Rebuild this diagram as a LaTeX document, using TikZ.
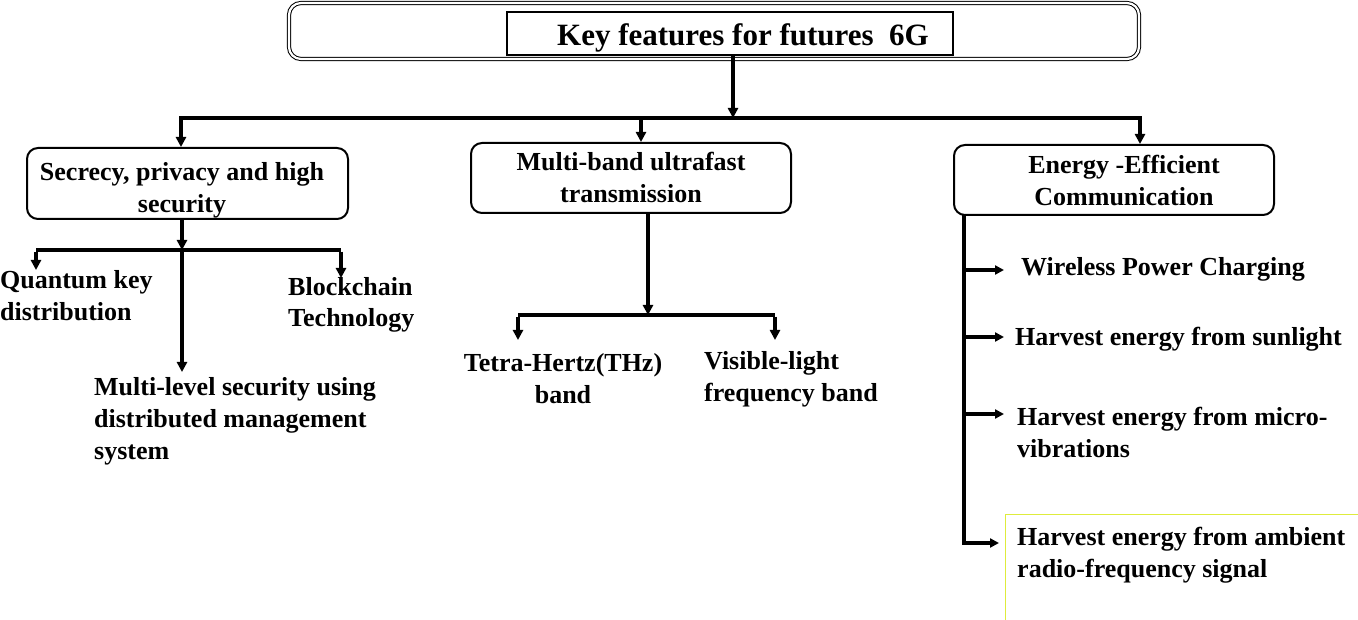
\documentclass[tikz,border=0pt]{standalone}
\usepackage{fontspec}
\setmainfont{Liberation Serif}
\usetikzlibrary{arrows.meta}
\definecolor{hl}{RGB}{222,236,60}
\begin{document}
\begin{tikzpicture}[x=1pt,y=-1pt,
  box/.style={draw,line width=2pt,rounded corners=11pt,inner sep=0pt,align=center},
  lbl/.style={inner sep=0pt,font=\fontsize{26}{32}\selectfont\bfseries},
  ln/.style={line width=3.2pt},
  arr/.style={line width=3.2pt,-{Triangle[length=10pt,width=10pt]}},
  arrh/.style={line width=3.2pt,-{Triangle[length=9pt,width=9pt]}}]
\useasboundingbox (0,0) rectangle (1358,620);
% title
\node[draw,line width=1pt,double,double distance=2.2pt,rounded corners=12pt,minimum width=850pt,minimum height=56pt,inner sep=0pt] (outer) at (714,31) {};
\node[draw,line width=2pt,minimum width=446pt,minimum height=43pt,inner sep=0pt] (inner) at (730,33.5) {};
\node[inner sep=0pt,anchor=base,font=\fontsize{31}{36}\selectfont\bfseries] (title) at (743,46) {Key features for futures\ \ 6G};
% level 1 boxes
\node[box,minimum width=321pt,minimum height=71pt] (b1) at (187.5,183.5) {};
\node[box,minimum width=320pt,minimum height=70pt] (b2) at (631,178) {};
\node[box,minimum width=320pt,minimum height=70pt] (b3) at (1114,180) {};
\node[lbl,align=center,anchor=base] (t1) at (182,213) {Secrecy, privacy and high\\security};
\node[lbl,align=center,anchor=base] (t2) at (631,203) {Multi-band ultrafast\\transmission};
\node[lbl,align=center,anchor=base] (t3) at (1124,206) {Energy -Efficient\\Communication};
% top connectors
\coordinate (top) at (733,118);
\draw[arr] (top |- inner.south) -- (top);
\coordinate (c1) at (181,118);
\coordinate (c3) at (1140,118);
\draw[ln] ([xshift=-1.6pt]c1) -- ([xshift=1.6pt]c3);
\draw[arr] (c1) -- (c1 |- b1.north);
\draw[arr] (top -| 641,0) -- (641,0 |- b2.north);
\draw[arr] (c3) -- (c3 |- b3.north);
% branch 1
\coordinate (s1) at (182,250);
\coordinate (q1) at (36,250);
\coordinate (k1) at (341,250);
\coordinate (qa) at (36,270);
\coordinate (ka) at (341,278);
\coordinate (ma) at (182,372);
\draw[arr] (s1 |- b1.south) -- (s1);
\draw[ln] (q1) -- (k1);
\draw[arr] ([yshift=-1.6pt]q1) -- (qa);
\draw[arr] ([yshift=-1.6pt]k1) -- (ka);
\draw[arr] (s1) -- (ma);
\node[lbl,align=left,anchor=base west] (qkd) at (0,321) {Quantum key\\distribution};
\node[lbl,align=left,anchor=base west] (bc) at (288,327) {Blockchain\\Technology};
\node[lbl,align=left,anchor=base west] (ml) at (94,459) {Multi-level security using\\distributed management\\system};
% branch 2
\coordinate (s2) at (648,315);
\coordinate (l2) at (518,315);
\coordinate (r2) at (775,315);
\coordinate (la) at (518,340);
\coordinate (ra) at (775,340);
\draw[arr] (s2 |- b2.south) -- (s2);
\draw[ln] (l2) -- (r2);
\draw[arr] ([yshift=-1.6pt]l2) -- (la);
\draw[arr] ([yshift=-1.6pt]r2) -- (ra);
\node[lbl,align=center,anchor=base] (thz) at (563,403) {Tetra-Hertz(THz)\\band};
\node[lbl,align=left,anchor=base west] (vl) at (704,401) {Visible-light\\frequency band};
% branch 3
\coordinate (v0) at (964,215);
\coordinate (v1) at (964,270);
\coordinate (v2) at (964,337);
\coordinate (v3) at (964,414);
\coordinate (v4) at (964,543);
\coordinate (h1) at (1004,270);
\coordinate (h2) at (1004,337);
\coordinate (h3) at (1004,414);
\coordinate (h4) at (999,543);
\draw[hl,line width=1.2pt] (1005.5,620) |- (1358,514.5);
\draw[ln] (v0) -- ([yshift=1.6pt]v4);
\draw[arrh] (v1) -- (h1);
\draw[arrh] (v2) -- (h2);
\draw[arrh] (v3) -- (h3);
\draw[arrh] ([xshift=-1.6pt]v4) -- (h4);
\node[lbl,anchor=base west] (wpc) at (1021,276) {Wireless Power Charging};
\node[lbl,anchor=base west] (sun) at (1015,345) {Harvest energy from sunlight};
\node[lbl,align=left,anchor=base west] (mic) at (1017,457) {Harvest energy from micro-\\vibrations};
\node[lbl,align=left,anchor=base west] (amb) at (1017,577) {Harvest energy from ambient\\radio-frequency signal};
\end{tikzpicture}
\end{document}
